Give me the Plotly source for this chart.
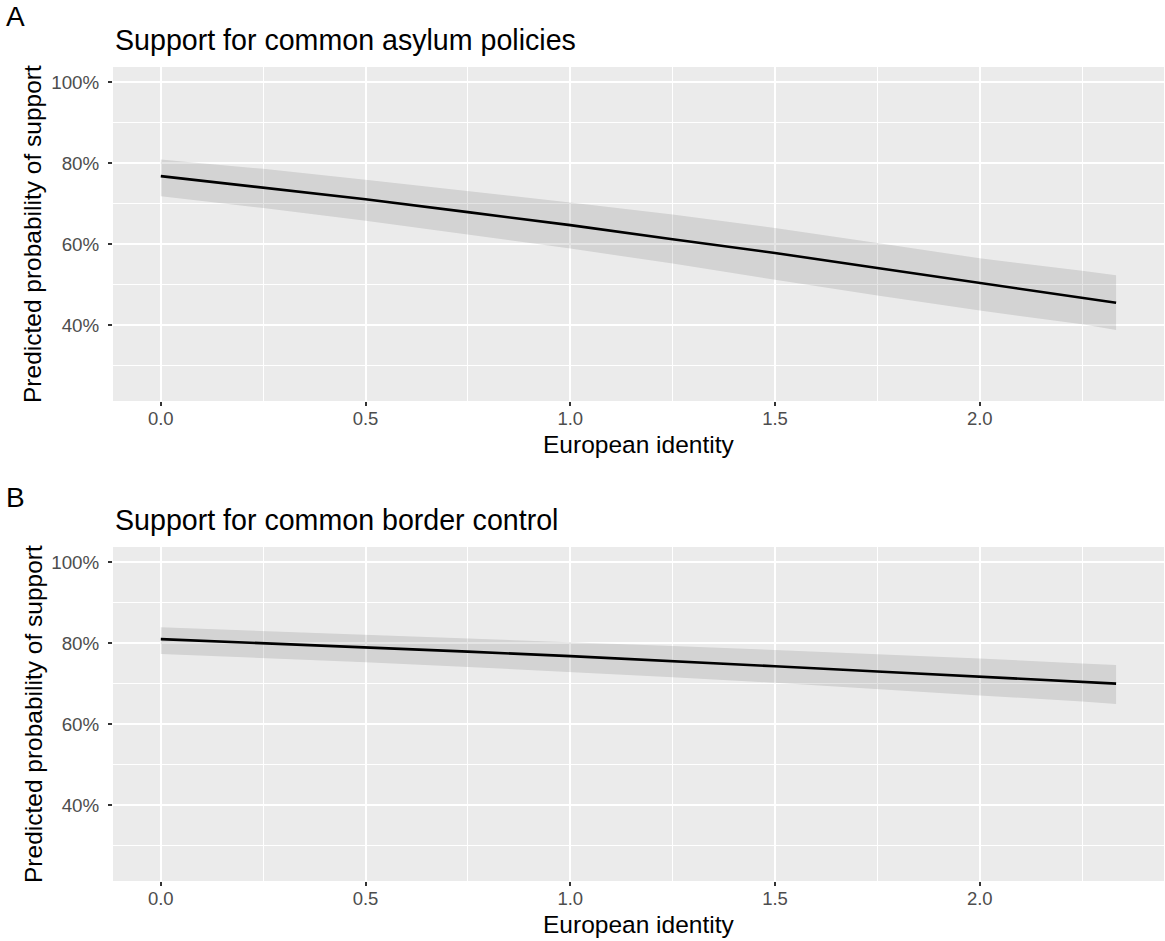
import plotly.graph_objects as go

# European identity values at which predictions are shown
identity = [0.0, 0.25, 0.5, 0.75, 1.0, 1.25, 1.5, 1.75, 2.0, 2.25, 2.333]

# Panel A: support for common asylum policies (predicted probability, 95% CI)
asylum_fit = [0.768, 0.740, 0.711, 0.679, 0.647, 0.612, 0.578, 0.541, 0.504, 0.467, 0.455]
asylum_lo = [0.718, 0.689, 0.658, 0.624, 0.589, 0.552, 0.512, 0.473, 0.436, 0.402, 0.388]
asylum_hi = [0.809, 0.786, 0.759, 0.731, 0.703, 0.673, 0.640, 0.603, 0.565, 0.534, 0.523]

# Panel B: support for common border control
border_fit = [0.810, 0.800, 0.790, 0.779, 0.768, 0.756, 0.743, 0.730, 0.717, 0.704, 0.700]
border_lo = [0.773, 0.763, 0.753, 0.741, 0.729, 0.716, 0.702, 0.687, 0.671, 0.656, 0.650]
border_hi = [0.839, 0.830, 0.821, 0.812, 0.803, 0.793, 0.783, 0.773, 0.762, 0.750, 0.746]

panels = [
    ("A", "Support for common asylum policies", asylum_fit, asylum_lo, asylum_hi),
    ("B", "Support for common border control", border_fit, border_lo, border_hi),
]

W, H = 1165, 941
FONT = "Liberation Sans, Arial, Helvetica, sans-serif"

# pixel layout of the two panels
px_left, px_right = 113, 1164
panel_tops = [67, 547]
panel_h = 334

fig = go.Figure()
annotations = []

for i, (tag, title, fit, lo, hi) in enumerate(panels):
    xa = "x" if i == 0 else "x2"
    ya = "y" if i == 0 else "y2"
    # confidence ribbon
    fig.add_trace(go.Scatter(
        x=identity + identity[::-1], y=hi + lo[::-1],
        fill="toself", fillcolor="rgba(0,0,0,0.1)", line=dict(width=0),
        mode="lines", hoverinfo="skip", showlegend=False, xaxis=xa, yaxis=ya))
    # predicted probability
    fig.add_trace(go.Scatter(
        x=identity, y=fit, mode="lines",
        line=dict(color="black", width=2.6),
        showlegend=False, xaxis=xa, yaxis=ya))

    top = panel_tops[i]
    bottom = top + panel_h
    ydom = [1 - bottom / H, 1 - top / H]
    axis_x = dict(
        domain=[px_left / W, px_right / W], range=[-0.1167, 2.45],
        tick0=0, dtick=0.5, tickformat=".1f",
        showgrid=True, gridcolor="white", gridwidth=2,
        minor=dict(dtick=0.25, tick0=0, showgrid=True, gridcolor="white", gridwidth=1.1, ticks=""),
        ticks="outside", ticklen=4, tickwidth=1.5, tickcolor="#333333",
        ticklabelstandoff=-3,
        tickfont=dict(family=FONT, size=18.5, color="#4D4D4D"),
        zeroline=False, showline=False, anchor=ya,
    )
    axis_y = dict(
        domain=ydom, range=[0.2125, 1.0375],
        tick0=0, dtick=0.2, tickformat=".0%",
        showgrid=True, gridcolor="white", gridwidth=2,
        minor=dict(dtick=0.1, tick0=0, showgrid=True, gridcolor="white", gridwidth=1.1, ticks=""),
        ticks="outside", ticklen=4, tickwidth=1.5, tickcolor="#333333",
        ticklabelstandoff=5,
        tickfont=dict(family=FONT, size=18.8, color="#4D4D4D"),
        zeroline=False, showline=False, anchor=xa,
    )
    if i == 0:
        fig.update_layout(xaxis=axis_x, yaxis=axis_y)
    else:
        fig.update_layout(xaxis2=axis_x, yaxis2=axis_y)

    off = top - panel_tops[0]
    # panel tag
    annotations.append(dict(text=tag, x=4 / W, y=1 - (17 + off) / H, xref="paper", yref="paper",
                            xanchor="left", yanchor="middle", showarrow=False,
                            font=dict(family=FONT, size=28, color="black")))
    # panel title
    annotations.append(dict(text=title, x=px_left / W, y=1 - (40 + off) / H, xref="paper", yref="paper",
                            xanchor="left", yanchor="middle", showarrow=False,
                            font=dict(family=FONT, size=28.6, color="black")))
    # x axis title
    annotations.append(dict(text="European identity", x=(px_left + px_right) / 2 / W,
                            y=1 - (444 + off) / H, xref="paper", yref="paper",
                            xanchor="center", yanchor="middle", showarrow=False,
                            font=dict(family=FONT, size=24.5, color="black")))
    # y axis title
    annotations.append(dict(text="Predicted probability of support", x=33 / W,
                            y=1 - (top + panel_h / 2) / H, xref="paper", yref="paper",
                            xanchor="center", yanchor="middle", textangle=-90, showarrow=False,
                            font=dict(family=FONT, size=24.5, color="black")))

fig.update_layout(
    width=W, height=H,
    margin=dict(l=0, r=0, t=0, b=0),
    paper_bgcolor="white", plot_bgcolor="#EBEBEB",
    annotations=annotations,
    font=dict(family=FONT),
)

fig.write_html("out.html")
